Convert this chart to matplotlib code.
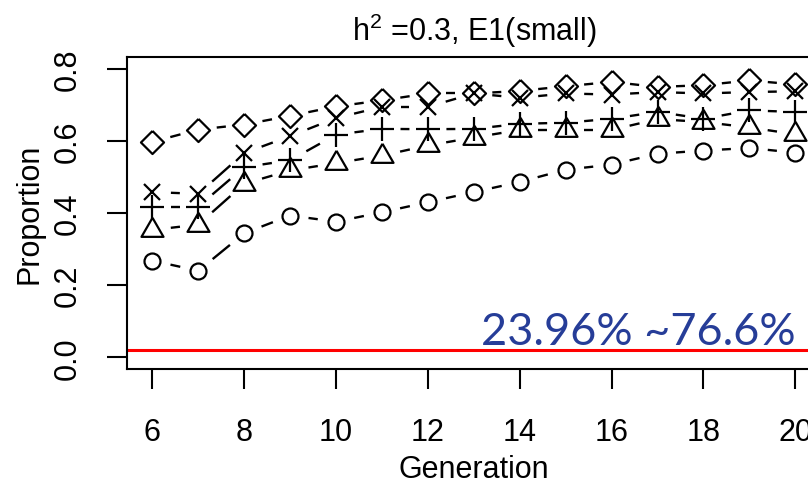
import matplotlib.pyplot as plt
import numpy as np

plt.rcParams['font.family'] = ['Liberation Sans', 'DejaVu Sans']
plt.rcParams['mathtext.fontset'] = 'custom'
plt.rcParams['mathtext.rm'] = 'Liberation Sans'

# generations and the five series
generation = np.arange(6, 21)
circle_vals = [0.268, 0.240, 0.344, 0.393, 0.376, 0.402, 0.430, 0.458,
               0.486, 0.520, 0.534, 0.564, 0.573, 0.580, 0.567]
triangle_vals = [0.353, 0.368, 0.481, 0.518, 0.538, 0.559, 0.587, 0.609,
                 0.630, 0.630, 0.630, 0.660, 0.652, 0.637, 0.618]
plus_vals = [0.418, 0.418, 0.527, 0.546, 0.617, 0.633, 0.632, 0.633,
             0.647, 0.650, 0.661, 0.680, 0.661, 0.684, 0.680]
cross_vals = [0.458, 0.453, 0.566, 0.613, 0.663, 0.694, 0.694, 0.731,
              0.719, 0.731, 0.728, 0.735, 0.731, 0.735, 0.737]
diamond_vals = [0.597, 0.631, 0.645, 0.669, 0.695, 0.712, 0.731, 0.731,
                0.738, 0.751, 0.763, 0.749, 0.754, 0.767, 0.756]

x_ticks = [6, 8, 10, 12, 14, 16, 18, 20]
y_ticks = [0.0, 0.2, 0.4, 0.6, 0.8]
ref_level = 0.02
range_label = "23.96% ~76.6%"

W, H = 808, 489
fig = plt.figure(figsize=(W / 100, H / 100), dpi=100)
# the right side of the box is cut off in the original, so the axes run past the figure
ax = fig.add_axes([126.7 / W, (H - 370) / H, (821 - 126.7) / W, (370 - 58) / H])
ax.set_xlim(5.44, 20.56)
ax.set_ylim(-0.032, 0.832)


def linhas_com_gap(ax, x, y, gap_px=18.5, **kw):
    # like R type="b": segments between points, cut short near each point
    pts = ax.transData.transform(np.column_stack([x, y]))
    inv = ax.transData.inverted()
    for p0, p1 in zip(pts[:-1], pts[1:]):
        d = p1 - p0
        L = np.hypot(d[0], d[1])
        if L <= 2 * gap_px:
            continue
        u = d / L
        a = inv.transform(p0 + u * gap_px)
        b = inv.transform(p1 - u * gap_px)
        ax.plot([a[0], b[0]], [a[1], b[1]], color='black', lw=1.7,
                solid_capstyle='butt', **kw)


tri = [(0, 1), (0.866, -0.5), (-0.866, -0.5), (0, 1)]
diam = [(0, 1), (1, 0), (0, -1), (-1, 0), (0, 1)]
series = [
    (circle_vals, 'o', 11.5),
    (triangle_vals, tri, 18.3),
    (plus_vals, '+', 16.6),
    (cross_vals, 'x', 11.5),
    (diamond_vals, diam, 16.6),
]
for vals, mk, ms in series:
    linhas_com_gap(ax, generation, vals)
    ax.plot(generation, vals, linestyle='none', marker=mk, ms=ms,
            mfc='none', mec='black', mew=1.6)

ax.axhline(ref_level, color='red', lw=2.2)
ax.text(20, 0.037, range_label, ha='right', va='baseline', fontsize=32.5,
        color='#263d98', family='Lato')

ax.set_xticks(x_ticks)
ax.set_yticks(y_ticks)
ax.set_yticklabels([f"{v:.1f}" for v in y_ticks])
ax.tick_params(length=14.4, width=1.5, direction='out', labelsize=22)
ax.tick_params(axis='x', pad=20)
ax.tick_params(axis='y', pad=17, labelrotation=90)
for lab in ax.get_yticklabels():
    lab.set_verticalalignment('center')
for s in ax.spines.values():
    s.set_linewidth(1.5)

ax.set_title(r'$\mathregular{h^2}$ =0.3, E1(small)', fontsize=22, pad=12)
ax.set_xlabel('Generation', fontsize=22)
ax.set_ylabel('Proportion', fontsize=22)
ax.xaxis.set_label_coords(0.5, -0.32)
ax.xaxis.label.set_verticalalignment('center')
ax.yaxis.set_label_coords(-0.14, 0.5)
ax.yaxis.label.set_verticalalignment('center')

plt.savefig('out.png', dpi=100)
